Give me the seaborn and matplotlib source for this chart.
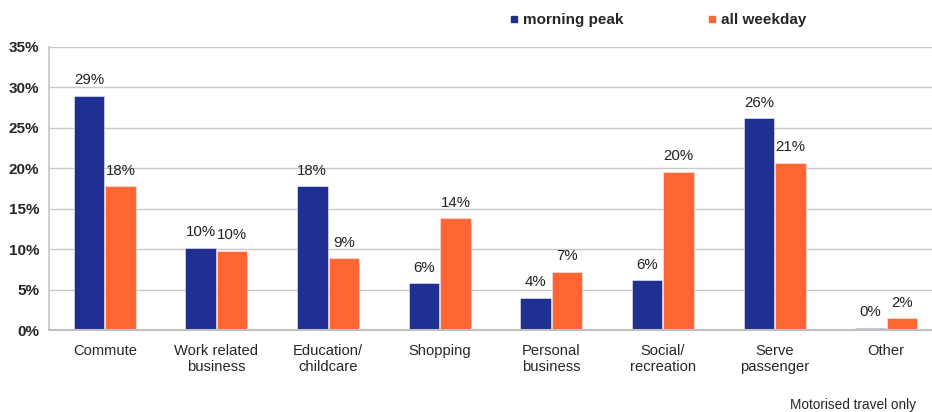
import matplotlib
matplotlib.use("Agg")
import matplotlib.pyplot as plt
import seaborn as sns
import pandas as pd
from matplotlib.lines import Line2D

categories = ["Commute", "Work related\nbusiness", "Education/\nchildcare", "Shopping",
              "Personal\nbusiness", "Social/\nrecreation", "Serve\npassenger", "Other"]
morning_peak = [29.0, 10.2, 17.8, 5.8, 4.0, 6.2, 26.2, 0.3]
all_weekday = [17.8, 9.8, 8.9, 13.8, 7.2, 19.6, 20.7, 1.5]
series_names = ["morning peak", "all weekday"]
y_ticks = [0, 5, 10, 15, 20, 25, 30, 35]

colors = {"morning peak": "#1F3092", "all weekday": "#FF6633"}

df = pd.DataFrame({
    "category": categories * 2,
    "share": morning_peak + all_weekday,
    "period": [series_names[0]] * len(categories) + [series_names[1]] * len(categories),
})

sns.set_theme(style="white")
plt.rcParams["font.family"] = ["Liberation Sans", "DejaVu Sans"]

fig = plt.figure(figsize=(9.32, 4.12), dpi=100)
ax = fig.add_axes([49 / 932, 1 - 330 / 412, (942 - 49) / 932, (330 - 47) / 412])

sns.barplot(data=df, x="category", y="share", hue="period", hue_order=series_names,
            palette=colors, width=0.565, gap=0.03, edgecolor="#F0F0F0", linewidth=0.4,
            ax=ax, legend=False, saturation=1)

for container in ax.containers:
    ax.bar_label(container, labels=[f"{v:.0f}%" for v in container.datavalues],
                 padding=6, fontsize=10.8, color="#222222")

ax.set_ylim(0, 35)
ax.set_xlim(-0.5, 7.5)
ax.set_yticks(y_ticks)
ax.set_yticklabels([f"{t}%" for t in y_ticks], fontweight="bold", fontsize=11)
ax.tick_params(axis="y", length=0, pad=7)
ax.tick_params(axis="x", length=0, pad=10, labelsize=10.6)
ax.set_xlabel("")
ax.set_ylabel("")
ax.yaxis.grid(True, color="#C8C8C8", linewidth=1)
ax.set_axisbelow(True)
for side in ["top", "right"]:
    ax.spines[side].set_visible(False)
ax.spines["left"].set_color("#C8C8C8")
ax.spines["bottom"].set_color("#C0C0C0")
ax.spines["bottom"].set_linewidth(1.5)

handles = [Line2D([], [], marker="s", linestyle="", markersize=5,
                  markerfacecolor=colors[s], markeredgecolor=colors[s]) for s in series_names]
fig.legend(handles, series_names, loc="center left", bbox_to_anchor=(494 / 932, 1 - 20 / 412),
           ncol=2, frameon=False, handletextpad=0.2, columnspacing=5.4,
           prop={"weight": "bold", "size": 11}, handlelength=0.8)

fig.text(916 / 932, 1 - 405 / 412, "Motorised travel only", ha="right", va="center", fontsize=9.8)

fig.savefig("out.png", dpi=100)
